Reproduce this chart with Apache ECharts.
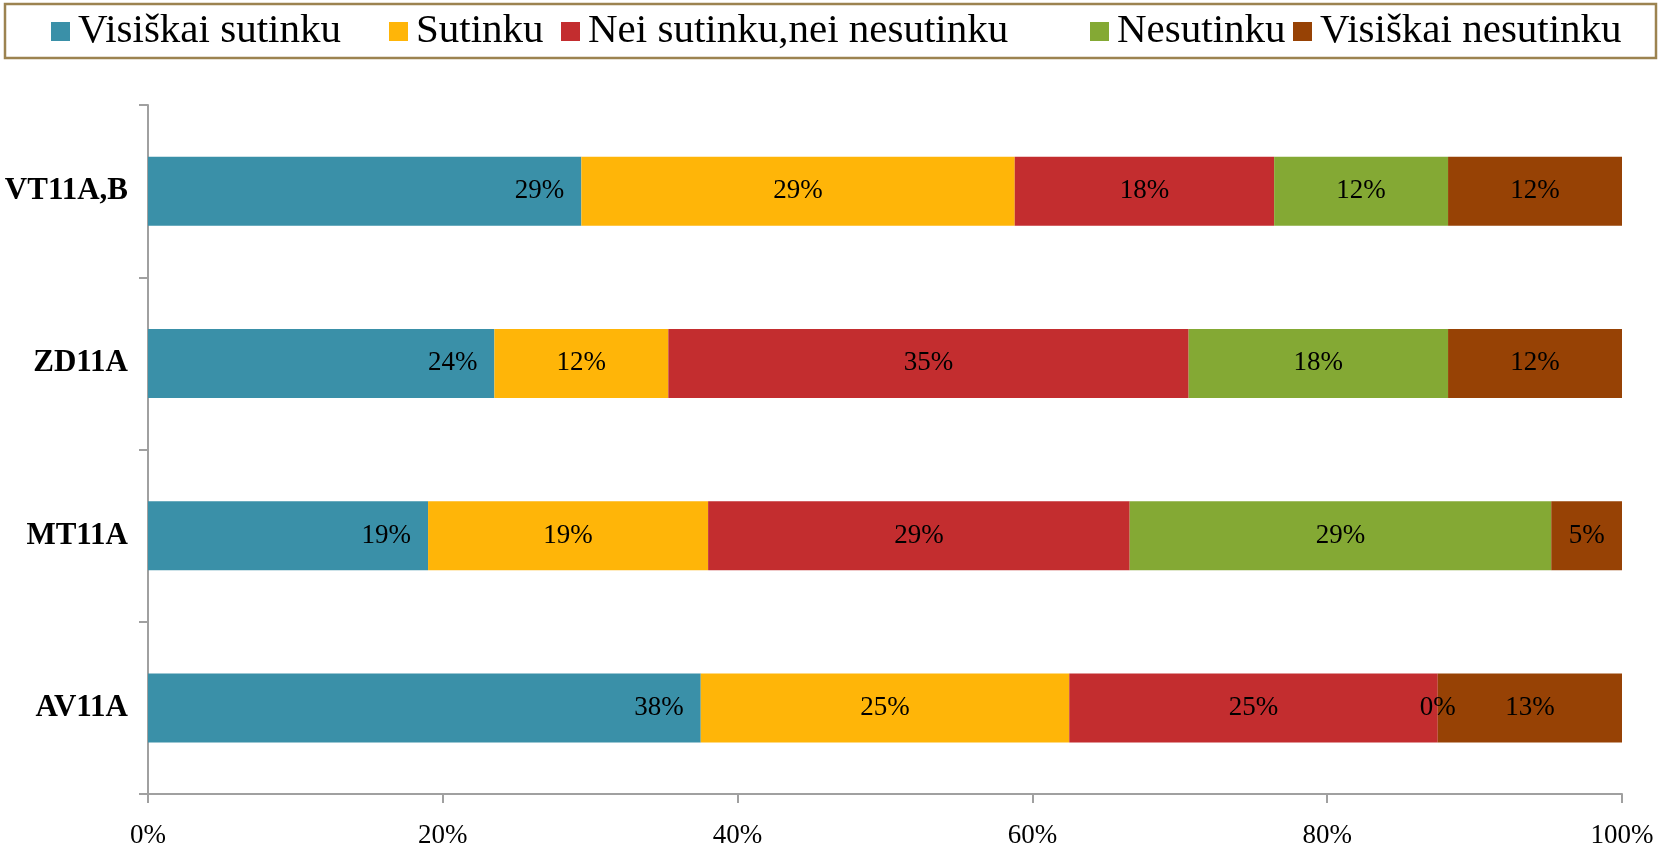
<!DOCTYPE html>
<html>
<head>
<meta charset="utf-8">
<script src="https://cdn.jsdelivr.net/npm/echarts@6/dist/echarts.min.js"></script>
<style>
  html, body { margin: 0; padding: 0; background: #fff; }
  #main { width: 1659px; height: 849px; }
</style>
</head>
<body>
<div id="main"></div>
<script>
// data
const categories = ["VT11A,B", "ZD11A", "MT11A", "AV11A"]
const seriesNames = ["Visiškai sutinku", "Sutinku", "Nei sutinku,nei nesutinku", "Nesutinku", "Visiškai nesutinku"]
const visiskaiSutinku   = [29.4, 23.5, 19.0, 37.5]
const sutinku           = [29.4, 11.8, 19.0, 25.0]
const neiSutinku        = [17.6, 35.3, 28.6, 25.0]
const nesutinku         = [11.8, 17.6, 28.6, 0]
const visiskaiNesutinku = [11.8, 11.8, 4.8, 12.5]
const xTicks = [0, 20, 40, 60, 80, 100]

const values = [visiskaiSutinku, sutinku, neiSutinku, nesutinku, visiskaiNesutinku]
const colors = ["#3A90A8", "#FFB508", "#C32D2F", "#84A934", "#974205"]
const legendX = [51, 389, 561, 1090, 1293]

const serif = "'Liberation Serif', 'DejaVu Serif', serif"
const axisColor = "#A0A0A0"

const chartContainer = document.getElementById("main")
const myChart = echarts.init(chartContainer)

const options = {
  animation: false,
  color: colors,
  legend: seriesNames.map((name, i) => ({
    data: [name],
    left: legendX[i],
    top: 11,
    padding: 0,
    itemWidth: 19,
    itemHeight: 19,
    icon: "rect",
    textStyle: {
      fontFamily: serif,
      fontSize: 41,
      lineHeight: 40,
      color: "#000",
      padding: [0, 0, 0, 3]
    }
  })),
  graphic: [{
    type: "rect",
    shape: { x: 5, y: 4, width: 1651, height: 54 },
    style: { fill: "none", stroke: "#9C8350", lineWidth: 2.5 },
    silent: true
  }],
  grid: { left: 148, right: 37, top: 105, bottom: 52 },
  xAxis: {
    type: "value",
    min: xTicks[0],
    max: xTicks[xTicks.length - 1],
    interval: 20,
    axisLine: { show: true, lineStyle: { color: axisColor, width: 2 } },
    axisTick: { show: true, length: 9, lineStyle: { color: axisColor, width: 2 } },
    splitLine: { show: false },
    axisLabel: {
      margin: 28,
      fontFamily: serif,
      fontSize: 27,
      color: "#000",
      formatter: v => v + "%"
    }
  },
  yAxis: {
    type: "category",
    data: categories,
    inverse: true,
    axisLine: { show: true, lineStyle: { color: axisColor, width: 2 } },
    axisTick: { show: true, length: 9, lineStyle: { color: axisColor, width: 2 } },
    axisLabel: {
      margin: 20,
      fontFamily: serif,
      fontSize: 31,
      fontWeight: "bold",
      color: "#000"
    }
  },
  series: seriesNames.map((name, i) => ({
    name: name,
    type: "bar",
    stack: "total",
    barWidth: 69,
    data: values[i],
    label: {
      show: true,
      position: i === 0 ? "insideRight" : "inside",
      distance: 17,
      fontFamily: serif,
      fontSize: 27,
      color: "#000",
      formatter: p => Math.round(p.value) + "%"
    }
  }))
}

myChart.setOption(options)
window.onresize = () => myChart.resize()
</script>
</body>
</html>
